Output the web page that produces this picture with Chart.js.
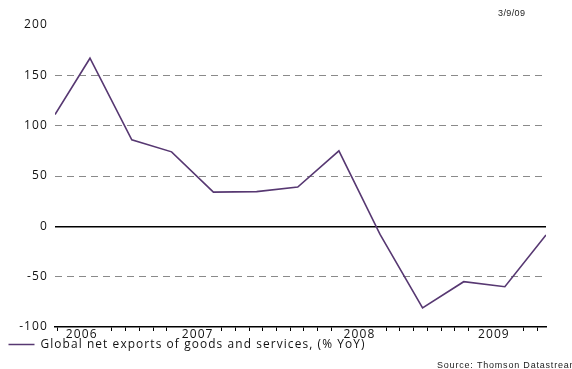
<!DOCTYPE html>
<html>
<head>
<meta charset="utf-8">
<script src="https://cdn.jsdelivr.net/npm/chart.js@4"></script>
<style>
html,body{margin:0;padding:0;background:#fff;}
#wrap{width:572px;height:369px;}
</style>
</head>
<body>
<div id="wrap"><canvas id="c" width="572" height="369"></canvas></div>
<script>
// ---- data ----
const seriesName = 'Global net exports of goods and services, (% YoY)';
// position along the time axis, in months from the first observation
const monthPos = [0, 2.55, 5.6, 8.5, 11.55, 14.7, 17.7, 20.7, 23.7, 26.8, 29.8, 32.8, 35.8];
const values = [111, 167, 86, 74, 34, 34.5, 39, 75, -8, -81, -55, -60, -8.5];
const yearLabels = ['2006', '2007', '2008', '2009'];
const yearLabelPos = [1.95, 10.4, 22.2, 32.0];
const yTicks = [-100, -50, 0, 50, 100, 150, 200];
const dateStamp = '3/9/09';
const sourceText = 'Source: Thomson Datastream';

const monthTicks = [];
for (let m = 0; m <= 35; m++) monthTicks.push(m + 0.15);

const FONT = '"Open Sans", "DejaVu Sans", sans-serif';
Chart.defaults.font.family = FONT;
Chart.defaults.color = '#111';

const textSpacing = {
  id: 'textSpacing',
  beforeDraw(chart) {
    if ('letterSpacing' in chart.ctx) chart.ctx.letterSpacing = '1.1px';
  },
  afterDraw(chart) {
    const ctx = chart.ctx;
    if ('letterSpacing' in ctx) ctx.letterSpacing = '0px';
    ctx.save();
    ctx.fillStyle = '#222';
    ctx.font = '9px "Liberation Sans", Arial, sans-serif';
    ctx.textBaseline = 'middle';
    ctx.textAlign = 'left';
    if ('letterSpacing' in ctx) ctx.letterSpacing = '0.4px';
    ctx.fillText(dateStamp, 498, 14);
    if ('letterSpacing' in ctx) ctx.letterSpacing = '0.8px';
    ctx.fillText(sourceText, 437, 366);
    if ('letterSpacing' in ctx) ctx.letterSpacing = '0px';
    ctx.restore();
  }
};

function nearLabel(v) {
  return yearLabelPos.some(p => Math.abs(p - v) < 1.3);
}

new Chart(document.getElementById('c'), {
  type: 'line',
  data: {
    datasets: [{
      label: seriesName,
      data: monthPos.map((m, i) => ({x: m, y: values[i]})),
      borderColor: '#573872',
      backgroundColor: '#573872',
      borderWidth: 1.6,
      pointRadius: 0,
      tension: 0,
      fill: false
    }]
  },
  options: {
    responsive: false,
    devicePixelRatio: 1,
    animation: false,
    layout: {padding: {left: 8, right: 26, top: 25, bottom: 8.6}},
    plugins: {
      legend: {
        display: true,
        position: 'bottom',
        align: 'start',
        labels: {
          usePointStyle: true,
          pointStyle: 'line',
          pointStyleWidth: 26,
          boxWidth: 26,
          padding: 0.5,
          color: '#111',
          font: {size: 11.9}
        }
      },
      tooltip: {enabled: false},
      title: {display: false}
    },
    scales: {
      x: {
        type: 'linear',
        min: 0,
        max: 35.8,
        afterBuildTicks(scale) {
          const t = monthTicks.map(v => ({value: v}));
          yearLabelPos.forEach(v => t.push({value: v}));
          t.sort((a, b) => a.value - b.value);
          scale.ticks = t;
        },
        afterFit(scale) { scale.height = 11; },
        ticks: {
          autoSkip: false,
          maxRotation: 0,
          minRotation: 0,
          padding: -4,
          color: '#111',
          font: {size: 12},
          callback(value) {
            const i = yearLabelPos.indexOf(value);
            return i >= 0 ? yearLabels[i] : '';
          }
        },
        grid: {
          drawOnChartArea: false,
          drawTicks: true,
          tickLength: 4,
          tickWidth: 1,
          tickColor(ctx) {
            const v = ctx.tick && ctx.tick.value;
            if (yearLabelPos.indexOf(v) >= 0 || nearLabel(v)) return 'rgba(0,0,0,0)';
            return '#000';
          }
        },
        border: {display: true, color: '#000', width: 1.5}
      },
      y: {
        min: -100,
        max: 200,
        afterBuildTicks(scale) { scale.ticks = yTicks.map(v => ({value: v})); },
        afterFit(scale) { scale.width = 47; },
        ticks: {
          padding: 7,
          color: '#111',
          font: {size: 12}
        },
        grid: {
          drawTicks: false,
          color(ctx) {
            const v = ctx.tick && ctx.tick.value;
            if (v === 0) return '#000';
            if (v === 200 || v === -100) return 'rgba(0,0,0,0)';
            return '#8a8a8a';
          },
          lineWidth(ctx) {
            return (ctx.tick && ctx.tick.value === 0) ? 1.5 : 1;
          }
        },
        border: {
          display: false,
          dash(ctx) {
            return (ctx.tick && ctx.tick.value === 0) ? [] : [7, 5];
          }
        }
      }
    }
  },
  plugins: [textSpacing]
});
</script>
</body>
</html>
